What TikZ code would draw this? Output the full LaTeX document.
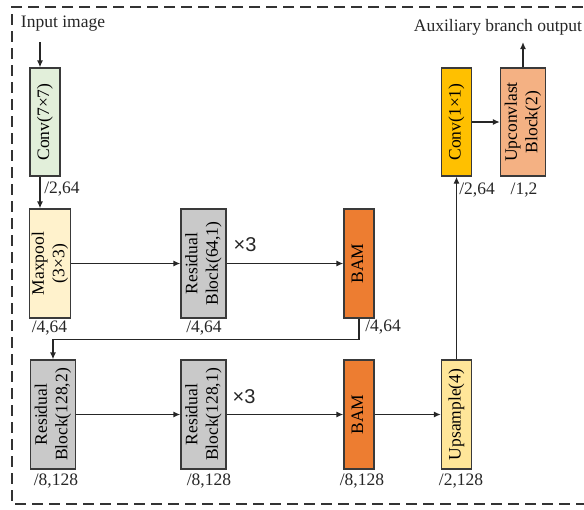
\documentclass[tikz,border=0pt]{standalone}
\usepackage{fontspec}
\setmainfont{Liberation Serif}
\newfontfamily\arialfont{Liberation Sans}
\usetikzlibrary{arrows.meta}
\definecolor{frame}{HTML}{333333}
\definecolor{edge}{HTML}{3A3A3A}
\definecolor{cgreen}{HTML}{E2EFDA}
\definecolor{cpale}{HTML}{FFF2CC}
\definecolor{cgray}{HTML}{C9C9C9}
\definecolor{corange}{HTML}{ED7D31}
\definecolor{cups}{HTML}{FFE699}
\definecolor{cgold}{HTML}{FFC000}
\definecolor{csalmon}{HTML}{F4B183}
\tikzset{
  blk/.style={draw=edge, line width=1.3pt, inner sep=0pt, minimum width=#1},
  blk/.default=30pt,
  tall/.style={minimum height=109pt},
  arr/.style={draw=black!85, line width=1.3pt, -{Latex[length=7pt,width=6pt]}},
  lbl/.style={inner sep=0pt, text=black!85},
  times/.style={inner sep=0pt, font=\arialfont\fontsize{20}{22}\selectfont, text=black!85},
}
\newcommand{\vtext}[1]{\rotatebox{90}{\begin{tabular}{@{}c@{}}#1\end{tabular}}}
\begin{document}
\begin{tikzpicture}[x=1pt,y=-1pt,font=\fontsize{17.5}{20.5}\selectfont]
\useasboundingbox (0,0) rectangle (584,509);
% frame
\draw[frame, line width=1.3pt, dash pattern=on 11pt off 6pt] (600,7) -- (12,7) -- (12,504) -- (600,504);

% top row
\node[lbl] (inlbl) at (63,24) {Input image};
\coordinate (inarr) at (40,42);
\node[blk=30pt, minimum height=108pt, fill=cgreen] (conv7) at (45,122) {\vtext{Conv(7\texttimes7)}};
\node[lbl] (l1) at (62,189) {/2,64};

% second row
\node[blk=40pt, tall, fill=cpale] (maxpool) at (50,263.5) {\vtext{Maxpool\\(3\texttimes3)}};
\node[blk=45pt, tall, fill=cgray] (res64) at (203.5,263.5) {\vtext{Residual\\Block(64,1)}};
\node[blk=30pt, tall, fill=corange] (bam1) at (359,263.5) {\vtext{BAM}};
\node[lbl] (l2) at (49.5,328) {/4,64};
\node[lbl] (l3) at (204,328) {/4,64};
\node[lbl] (l4) at (383,327) {/4,64};
\node[times] (x1) at (245,245) {\texttimes3};

% third row
\node[blk=45pt, tall, fill=cgray] (res128a) at (53,414.5) {\vtext{Residual\\Block(128,2)}};
\node[blk=45pt, tall, fill=cgray] (res128b) at (203.5,414.5) {\vtext{Residual\\Block(128,1)}};
\node[blk=30pt, tall, fill=corange] (bam2) at (359,414.5) {\vtext{BAM}};
\node[blk=30pt, tall, fill=cups] (ups) at (456.5,414.5) {\vtext{Upsample(4)}};
\node[lbl] (l5) at (56,481) {/8,128};
\node[lbl] (l6) at (209,481) {/8,128};
\node[lbl] (l7) at (362,481) {/8,128};
\node[lbl] (l8) at (461,481) {/2,128};
\node[times] (x2) at (244,397) {\texttimes3};

% auxiliary branch
\node[blk=30pt, minimum height=108pt, fill=cgold] (conv1) at (456.5,122) {\vtext{Conv(1\texttimes1)}};
\node[blk=45pt, minimum height=108pt, fill=csalmon] (upconv) at (523,122) {\vtext{Upconvlast\\Block(2)}};
\node[lbl] (l9) at (477,190) {/2,64};
\node[lbl] (l10) at (524,190) {/1,2};
\node[lbl] (outlbl) at (498,27) {Auxiliary branch output};
\coordinate (outarr) at (523,42);

% connectors
\draw[arr] (inarr) -- (inarr |- conv7.north);
\draw[arr] (inarr |- conv7.south) -- (inarr |- maxpool.north);
\draw[arr] (maxpool.east) -- (res64.west);
\draw[arr] (res64.east) -- (bam1.west);
\draw[arr] (bam1.south) -- ++(0,21) -| (res128a.north);
\draw[arr] (res128a.east) -- (res128b.west);
\draw[arr] (res128b.east) -- (bam2.west);
\draw[arr] (bam2.east) -- (ups.west);
\draw[arr] (ups.north) -- (conv1.south);
\draw[arr] (conv1.east) -- (upconv.west);
\draw[arr] (upconv.north) -- (outarr);
\end{tikzpicture}
\end{document}
